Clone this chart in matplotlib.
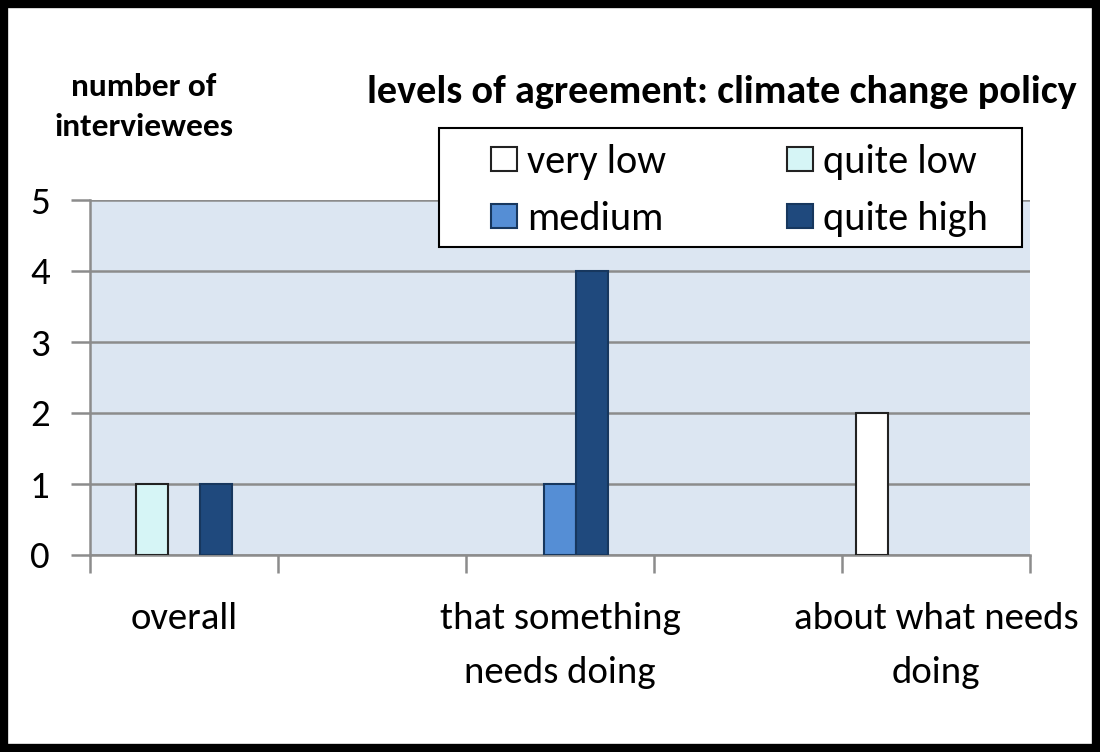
import matplotlib
matplotlib.use("Agg")
import matplotlib.pyplot as plt
import numpy as np
from matplotlib.patches import Rectangle

categories = ["overall", "", "that something\nneeds doing", "", "about what needs\ndoing"]
series_names = ["very low", "quite low", "medium", "quite high", "very high"]
values = {
    "very low":   [0, 0, 0, 0, 2],
    "quite low":  [1, 0, 0, 0, 0],
    "medium":     [0, 0, 1, 0, 0],
    "quite high": [1, 0, 4, 0, 0],
    "very high":  [0, 0, 0, 0, 0],
}
colors = {"very low": "#FFFFFF", "quite low": "#D6F5F6", "medium": "#558ED5",
          "quite high": "#1F497D", "very high": "#C6D9F1"}
edges = {"very low": "#222222", "quite low": "#222222", "medium": "#17375E",
         "quite high": "#17375E", "very high": "#17375E"}
yticks = [0, 1, 2, 3, 4, 5]

FONT = ["Carlito", "Liberation Sans Narrow", "Open Sans", "DejaVu Sans"]
plt.rcParams['font.family'] = FONT

fig = plt.figure(figsize=(11, 7.52), dpi=100)
ax = fig.add_axes([90/1100, 1-555/752, 940/1100, 355/752])
ax.set_facecolor("#DCE6F2")

n = len(categories)
x = np.arange(n)
w = 0.17
for i, s in enumerate(series_names):
    off = (i - 2) * w
    vals = np.array(values[s], dtype=float)
    vals[vals == 0] = np.nan
    ax.bar(x + off, vals, width=w, color=colors[s], edgecolor=edges[s],
           linewidth=1.5, label=s, zorder=3)

ax.set_xlim(-0.5, n - 0.5)
ax.set_ylim(0, 5)
ax.set_yticks(yticks)
ax.set_yticklabels([str(t) for t in yticks], fontsize=28)
ax.yaxis.grid(True, color="#8C8C8C", linewidth=1.8, zorder=1)
ax.set_axisbelow(True)
ax.set_xticks(np.arange(-0.5, n, 1.0))
ax.set_xticklabels([])
ax.tick_params(axis='x', length=13, width=1.8, color="#8C8C8C", direction='out')
ax.tick_params(axis='y', length=14, width=1.8, color="#8C8C8C", direction='out', pad=15)
for sp in ["top", "right"]:
    ax.spines[sp].set_visible(False)
for sp in ["left", "bottom"]:
    ax.spines[sp].set_color("#8C8C8C")
    ax.spines[sp].set_linewidth(1.8)

for xi, lab in zip(x, categories):
    if lab:
        ax.text(xi, -0.66, lab, ha="center", va="top", fontsize=28,
                transform=ax.transData, linespacing=1.78)

# legend frame
fig.patches.append(Rectangle((439/1100, 1-247/752), 583/1100, 119/752,
                             transform=fig.transFigure, facecolor="white",
                             edgecolor="black", linewidth=1.5, zorder=4))
h, l = ax.get_legend_handles_labels()
order = [0, 2, 1, 3]
leg = fig.legend([h[i] for i in order], [l[i] for i in order], loc="upper left",
                 bbox_to_anchor=(491/1100, 1-144/752),
                 ncol=2, fontsize=29, frameon=False, borderpad=0,
                 columnspacing=3.0, borderaxespad=0,
                 handlelength=0.65, handleheight=0.55, handletextpad=0.25,
                 labelspacing=0.52)
leg.set_zorder(6)

fig.text(1077/1100, 1-92/752, "levels of agreement: climate change policy",
         ha="right", va="center", fontsize=29, fontweight="bold")
fig.text(144/1100, 1-107/752, "number of\ninterviewees", ha="center", va="center",
         fontsize=24, fontweight="bold", linespacing=1.5)

fig.patches.append(Rectangle((0.004, 0.005), 0.992, 0.99, transform=fig.transFigure,
                             fill=False, edgecolor="black", linewidth=6, zorder=10))

fig.savefig("out.png", dpi=100)
